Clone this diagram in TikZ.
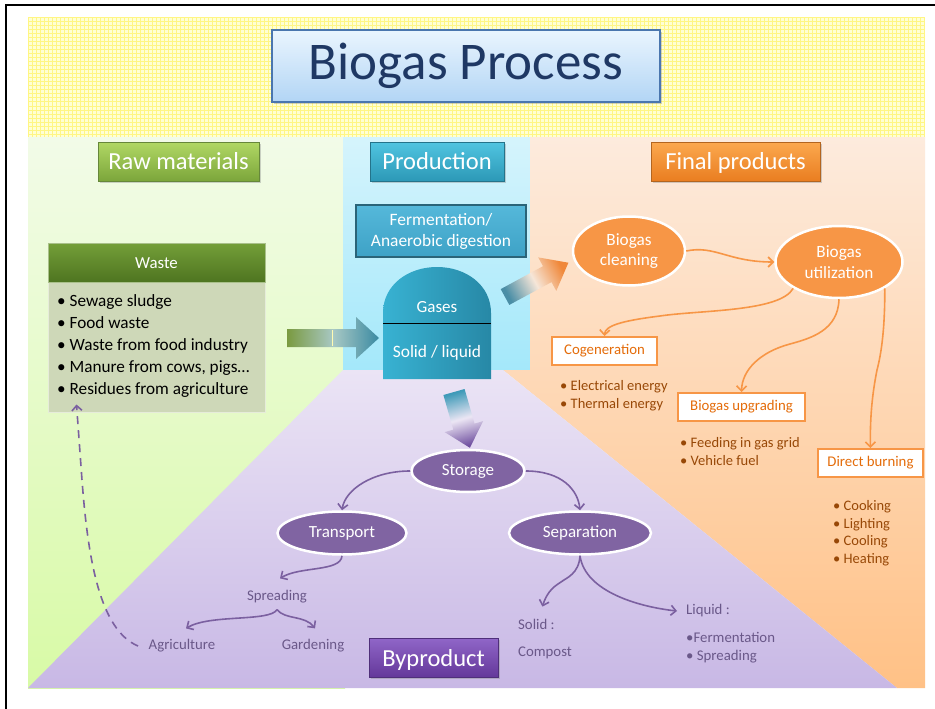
\documentclass[tikz,border=0pt]{standalone}
\usepackage{fontspec}
\setmainfont{Carlito}
\usetikzlibrary{shapes.geometric,arrows.meta,shadows}
\definecolor{ylbg}{HTML}{FFFFD4}
\definecolor{ylln}{HTML}{FFF684}
\definecolor{grTop}{HTML}{F2FBE8}
\definecolor{grBot}{HTML}{D8FAA6}
\definecolor{blTop}{HTML}{D5F4FC}
\definecolor{blBot}{HTML}{A4E8FA}
\definecolor{orTop}{HTML}{FDEBDD}
\definecolor{orBot}{HTML}{FFC186}
\definecolor{puTop}{HTML}{EBE4F5}
\definecolor{puBot}{HTML}{C8B8E5}
\definecolor{navy}{HTML}{1F3864}
\definecolor{tiTop}{HTML}{EAF5FE}
\definecolor{tiBot}{HTML}{B2D5F5}
\definecolor{tiBd}{HTML}{4A76AE}
\definecolor{accOr}{HTML}{F79646}
\definecolor{accPu}{HTML}{8064A2}
\definecolor{brownT}{HTML}{984807}
\definecolor{orText}{HTML}{E46C0A}
\definecolor{puText}{HTML}{6A5889}
\definecolor{puLine}{HTML}{7B60A0}
\definecolor{rmTop}{HTML}{B0D764}
\definecolor{rmBot}{HTML}{7BA53A}
\definecolor{rmBd}{HTML}{66873A}
\definecolor{prTop}{HTML}{50C4E0}
\definecolor{prBot}{HTML}{2C98B6}
\definecolor{prBd}{HTML}{24738A}
\definecolor{fpTop}{HTML}{FBA84E}
\definecolor{fpBot}{HTML}{E97D20}
\definecolor{fpBd}{HTML}{B3651F}
\definecolor{byTop}{HTML}{9066C8}
\definecolor{byBot}{HTML}{64389A}
\definecolor{byBd}{HTML}{4F2F7A}
\definecolor{feTop}{HTML}{55B8DA}
\definecolor{feBot}{HTML}{3EA2C6}
\definecolor{feBd}{HTML}{2A6478}
\definecolor{dgL}{HTML}{38B2D2}
\definecolor{dgR}{HTML}{2788A6}
\definecolor{whTop}{HTML}{739E38}
\definecolor{whBot}{HTML}{4E7420}
\definecolor{whBd}{HTML}{A9C08A}
\definecolor{wbFill}{HTML}{CED8B8}
\definecolor{wbBd}{HTML}{E6ECDA}
\definecolor{waL}{HTML}{7A9A40}
\definecolor{waM}{HTML}{A8C8C4}
\definecolor{waR}{HTML}{3A8AA2}
\definecolor{oaL}{HTML}{4A8EA6}
\definecolor{oaM}{HTML}{F6E6D8}
\definecolor{oaR}{HTML}{F0883A}
\definecolor{daL}{HTML}{3E9AB8}
\definecolor{daM}{HTML}{ECE6F4}
\definecolor{daR}{HTML}{7050A0}
\tikzset{
  hdr/.style={draw=#1, line width=1pt, minimum height=39pt, text=white,
    font=\fontsize{24.5}{28}\selectfont, inner sep=0pt, text height=18pt, text depth=4pt,
    drop shadow={shadow xshift=1.5pt, shadow yshift=-1.5pt, opacity=0.35}},
  oell/.style={ellipse, draw=white, line width=2.5pt, fill=accOr, text=white,
    align=center, font=\fontsize{17.2}{20.5}\selectfont, inner sep=0pt},
  pell/.style={ellipse, draw=white, line width=2.5pt, fill=accPu, text=white,
    font=\fontsize{17}{19}\selectfont, inner sep=0pt},
  obox/.style={draw=accOr, line width=2pt, fill=white, text=orText,
    font=\fontsize{14.8}{17}\selectfont, inner sep=0pt},
  btext/.style={text=brownT, font=\fontsize{14.5}{18}\selectfont, align=left,
    anchor=west, inner sep=0pt},
  ptext/.style={text=puText, font=\fontsize{14.8}{17}\selectfont, inner sep=1pt},
  oline/.style={draw=accOr, line width=1.6pt, -{Straight Barb[length=5pt,width=10pt]}},
  pline/.style={draw=puLine, line width=1.6pt, -{Straight Barb[length=5pt,width=10pt]}}
}
\begin{document}
\begin{tikzpicture}[x=1pt,y=-1pt]
\useasboundingbox (0,0) rectangle (935,709);
\fill[white] (0,0) rectangle (935,709);
% yellow grid band
\fill[ylbg] (28,18) rectangle (925,137);
\foreach \i in {28,32,...,924} \draw[ylln, line width=1pt] (\i,18) -- (\i,137);
\foreach \j in {18,22,...,136} \draw[ylln, line width=1pt] (28,\j) -- (925,\j);
% regions
\shade[top color=grTop, bottom color=grBot] (28,137) rectangle (345,688);
\shade[top color=blTop, bottom color=blBot] (343,137) rectangle (530,370);
\shade[top color=orTop, bottom color=orBot] (530,137) -- (925,137) -- (925,688) -- (897,688) -- (503,370) -- (530,370) -- cycle;
\shade[top color=puTop, bottom color=puBot] (28,688) -- (343,370) -- (503,370) -- (897,688) -- cycle;
% frame
\draw[black, line width=2pt] (6,709) -- (6,5) -- (935,5);
% title
\node[draw=tiBd, line width=1.5pt, top color=tiTop, bottom color=tiBot,
  minimum width=388pt, minimum height=72pt, text=navy, inner sep=0pt,
  font=\fontsize{53}{56}\selectfont,
  drop shadow={shadow xshift=2pt, shadow yshift=-2pt, opacity=0.35}] (title) at (466,66) {Biogas Process};
% section headers
\node[hdr=rmBd, top color=rmTop, bottom color=rmBot, minimum width=161pt] (raw) at (178.5,162) {Raw materials};
\node[hdr=prBd, top color=prTop, bottom color=prBot, minimum width=134pt] (prod) at (437,162) {Production};
\node[hdr=fpBd, top color=fpTop, bottom color=fpBot, minimum width=169pt] (fin) at (735.5,162) {Final products};
\node[hdr=byBd, top color=byTop, bottom color=byBot, minimum width=129pt, text height=19pt, text depth=2pt] (byp) at (433.5,657.5) {Byproduct};
% fermentation
\node[draw=feBd, line width=2pt, top color=feTop, bottom color=feBot,
  minimum width=170pt, minimum height=52pt, text=white, align=center, inner sep=0pt,
  font=\fontsize{17.4}{21}\selectfont] (ferm) at (441,231) {Fermentation/\\Anaerobic digestion};
% digester
\shade[left color=dgL, right color=dgR] (383,379) -- (383,313) .. controls (383,285) and (408,267) .. (437,267) .. controls (466,267) and (491,285) .. (491,313) -- (491,379) -- cycle;
\draw[black, line width=1pt] (383,323) -- (491,323);
\node[text=white, font=\fontsize{17}{19}\selectfont] (gases) at (437,307) {Gases};
\node[text=white, font=\fontsize{17.4}{19}\selectfont] (sol) at (437,353) {Solid / liquid};
% waste box
\node[draw=wbBd, line width=1pt, fill=wbFill, minimum width=217pt, minimum height=130pt, inner sep=0pt] (wbody) at (156.5,347) {};
\node[draw=whBd, line width=1pt, top color=whTop, bottom color=whBot, minimum width=217pt,
  minimum height=39pt, text=white, font=\fontsize{16.8}{18}\selectfont] (whead) at (156.5,263) {Waste};
\node[anchor=west, align=left, font=\fontsize{17.2}{22.2}\selectfont, inner sep=0pt] (wlist) at (57,346)
  {• Sewage sludge\\• Food waste\\• Waste from food industry\\• Manure from cows, pigs…\\• Residues from agriculture};
% block arrows
\shade[left color=waL, right color=waR, middle color=waM] (287,329) -- (356,329) -- (356,317) -- (379,338) -- (356,359) -- (356,347) -- (287,347) -- cycle;
\draw[white!70!yellow, line width=1pt] (332,330) -- (332,346);
\shade[left color=oaL, right color=oaR, middle color=oaM, shading angle=118.4]
  (500.7,289.1) -- (543.0,266.2) -- (538.2,257.4) -- (568.4,262.7) -- (556.3,290.9) -- (551.5,282.1) -- (509.3,304.9) -- cycle;
\shade[top color=daL, bottom color=daR, middle color=daM, shading angle=16]
  (464.6,389.0) -- (474.5,423.6) -- (483.1,421.1) -- (469.9,447.8) -- (444.7,432.1) -- (453.3,429.6) -- (443.4,395.0) -- cycle;
% final products
\node[oell, minimum width=112pt, minimum height=69pt] (clean) at (629,251) {Biogas\\cleaning};
\node[oell, minimum width=127pt, minimum height=72pt] (util) at (839,262) {Biogas\\utilization};
\node[obox, minimum width=105pt, minimum height=28pt] (cog) at (604.5,351) {Cogeneration};
\node[obox, minimum width=127pt, minimum height=28pt] (upg) at (741.5,407) {Biogas upgrading};
\node[obox, minimum width=105pt, minimum height=28pt] (burn) at (870.5,463) {Direct burning};
\node[btext] (elist) at (560,396) {• Electrical energy\\• Thermal energy};
\node[btext] (ulist) at (680,452) {• Feeding in gas grid\\• Vehicle fuel};
\node[btext, font=\fontsize{14.5}{17.5}\selectfont] (blist) at (833,533) {• Cooking\\• Lighting\\• Cooling\\• Heating};
\draw[oline] (clean.east) .. controls (715,245) and (728,262) .. (util.west);
\draw[oline] (util.south west) .. controls (780,312) and (700,310) .. (660,316) .. controls (620,321) and (605,326) .. (cog.north);
\draw[oline] (util.south) .. controls (838,330) and (812,338) .. (790,344) .. controls (760,352) and (742,370) .. (upg.north);
\draw[oline] (util.south east) .. controls (885,330) and (881,355) .. (877,370) .. controls (871,400) and (870,425) .. (burn.north);
% byproducts
\node[pell, minimum width=113pt, minimum height=42pt] (stor) at (468,471) {Storage};
\node[pell, minimum width=129pt, minimum height=43pt] (trans) at (342,533) {Transport};
\node[pell, minimum width=142pt, minimum height=43pt] (sep) at (580,533) {Separation};
\node[ptext] (sp) at (277,597) {Spreading};
\node[ptext] (agri) at (182,646) {Agriculture};
\node[ptext] (gard) at (313,646) {Gardening};
\node[ptext, anchor=west] (solid) at (517,624) {Solid :};
\node[ptext, anchor=west] (comp) at (517,653) {Compost};
\node[ptext, anchor=west] (liq) at (685,611) {Liquid :};
\node[ptext, anchor=west, align=left, font=\fontsize{14.8}{18}\selectfont] (llist) at (685,648) {•Fermentation\\• Spreading};
\draw[pline] (stor.west) .. controls (372,471) and (345,490) .. (trans.north);
\draw[pline] (stor.east) .. controls (562,471) and (578,490) .. (sep.north);
\draw[pline] (trans.south) .. controls (341,572) and (300,566) .. ([xshift=3pt,yshift=11pt]sp.north);
\draw[pline] ([yshift=-5pt]sp.south) .. controls (270,622) and (210,614) .. ([xshift=4pt,yshift=10pt]agri.north);
\draw[pline] ([yshift=-5pt]sp.south) .. controls (285,620) and (305,615) .. ([xshift=2pt,yshift=10pt]gard.north);
\draw[pline] (sep.south) .. controls (579,574) and (566,578) .. (561,582) .. controls (551,588) and (546,595) .. ([xshift=6pt,yshift=11pt]solid.north);
\draw[pline] (sep.south) .. controls (585,592) and (640,607) .. ([xshift=-8pt]liq.west);
\draw[pline, dash pattern=on 8pt off 6pt] ([xshift=-9.5pt]agri.west) .. controls (100,630) and (88,560) .. (82,480) -- ([xshift=29pt,yshift=8pt]wbody.south west);
\end{tikzpicture}
\end{document}
